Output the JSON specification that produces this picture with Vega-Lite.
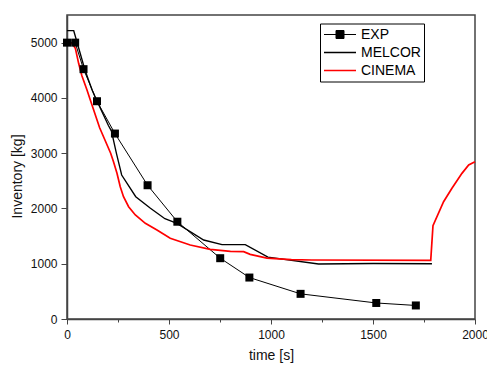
{
  "$schema": "https://vega.github.io/schema/vega-lite/v6.json",
  "autosize": "none",
  "width": 408,
  "height": 304,
  "padding": {"left": 67, "top": 15, "right": 12, "bottom": 46},
  "background": "white",
  "config": {
    "view": {"stroke": "#444444", "strokeWidth": 1.5},
    "font": "Liberation Sans",
    "axis": {
      "grid": false,
      "labelFlush": false,
      "labelOverlap": false,
      "domainColor": "#444444",
      "domainWidth": 1.5,
      "tickColor": "#444444",
      "tickWidth": 1,
      "labelFont": "Liberation Sans",
      "labelFontSize": 12,
      "labelColor": "#111111",
      "titleFont": "Liberation Sans",
      "titleFontSize": 14,
      "titleFontWeight": "normal",
      "titleColor": "#111111"
    }
  },
  "datasets": {
    "curves": [
      {"series": "EXP", "t": 0, "v": 5000},
      {"series": "EXP", "t": 40, "v": 5000},
      {"series": "EXP", "t": 81, "v": 4520},
      {"series": "EXP", "t": 147, "v": 3940},
      {"series": "EXP", "t": 235, "v": 3355},
      {"series": "EXP", "t": 395, "v": 2420},
      {"series": "EXP", "t": 541, "v": 1760},
      {"series": "EXP", "t": 751, "v": 1100},
      {"series": "EXP", "t": 894, "v": 750},
      {"series": "EXP", "t": 1145, "v": 455},
      {"series": "EXP", "t": 1516, "v": 290},
      {"series": "EXP", "t": 1710, "v": 245},
      {"series": "MELCOR", "t": 0, "v": 5216},
      {"series": "MELCOR", "t": 33, "v": 5216},
      {"series": "MELCOR", "t": 88, "v": 4505},
      {"series": "MELCOR", "t": 123, "v": 4143},
      {"series": "MELCOR", "t": 140, "v": 4000},
      {"series": "MELCOR", "t": 203, "v": 3500},
      {"series": "MELCOR", "t": 218, "v": 3400},
      {"series": "MELCOR", "t": 242, "v": 3000},
      {"series": "MELCOR", "t": 268, "v": 2605},
      {"series": "MELCOR", "t": 337, "v": 2213},
      {"series": "MELCOR", "t": 409, "v": 2003},
      {"series": "MELCOR", "t": 480, "v": 1815},
      {"series": "MELCOR", "t": 539, "v": 1731},
      {"series": "MELCOR", "t": 670, "v": 1429},
      {"series": "MELCOR", "t": 760, "v": 1345},
      {"series": "MELCOR", "t": 874, "v": 1345},
      {"series": "MELCOR", "t": 985, "v": 1120},
      {"series": "MELCOR", "t": 1233, "v": 995},
      {"series": "MELCOR", "t": 1500, "v": 1005},
      {"series": "MELCOR", "t": 1789, "v": 1000},
      {"series": "CINEMA", "t": 0, "v": 4975},
      {"series": "CINEMA", "t": 12, "v": 4990},
      {"series": "CINEMA", "t": 25, "v": 4985},
      {"series": "CINEMA", "t": 41, "v": 4898},
      {"series": "CINEMA", "t": 57, "v": 4626},
      {"series": "CINEMA", "t": 73, "v": 4400},
      {"series": "CINEMA", "t": 98, "v": 4143},
      {"series": "CINEMA", "t": 111, "v": 4000},
      {"series": "CINEMA", "t": 160, "v": 3460},
      {"series": "CINEMA", "t": 214, "v": 3000},
      {"series": "CINEMA", "t": 228, "v": 2846},
      {"series": "CINEMA", "t": 245, "v": 2636},
      {"series": "CINEMA", "t": 261, "v": 2394},
      {"series": "CINEMA", "t": 277, "v": 2213},
      {"series": "CINEMA", "t": 302, "v": 2032},
      {"series": "CINEMA", "t": 335, "v": 1882},
      {"series": "CINEMA", "t": 384, "v": 1731},
      {"series": "CINEMA", "t": 441, "v": 1610},
      {"series": "CINEMA", "t": 506, "v": 1460},
      {"series": "CINEMA", "t": 604, "v": 1339},
      {"series": "CINEMA", "t": 702, "v": 1261},
      {"series": "CINEMA", "t": 801, "v": 1222},
      {"series": "CINEMA", "t": 866, "v": 1218},
      {"series": "CINEMA", "t": 898, "v": 1170},
      {"series": "CINEMA", "t": 980, "v": 1100},
      {"series": "CINEMA", "t": 1100, "v": 1075},
      {"series": "CINEMA", "t": 1200, "v": 1067},
      {"series": "CINEMA", "t": 1783, "v": 1060},
      {"series": "CINEMA", "t": 1794, "v": 1688},
      {"series": "CINEMA", "t": 1846, "v": 2122},
      {"series": "CINEMA", "t": 1887, "v": 2364},
      {"series": "CINEMA", "t": 1936, "v": 2635},
      {"series": "CINEMA", "t": 1969, "v": 2786},
      {"series": "CINEMA", "t": 2000, "v": 2846}
    ]
  },
  "data": {"name": "curves"},
  "layer": [
    {
      "mark": {"type": "line", "clip": false},
      "encoding": {
        "x": {
          "field": "t", "type": "quantitative",
          "scale": {"domain": [0, 2000], "nice": false, "zero": false},
          "axis": {
            "orient": "bottom",
            "title": "time [s]",
            "values": [0, 250, 500, 750, 1000, 1250, 1500, 1750, 2000],
            "format": "d",
            "labelExpr": "datum.value % 500 === 0 ? datum.label : ''",
            "tickSize": 5,
            "labelPadding": 5,
            "titlePadding": 8,
            "encoding": {"ticks": {"y2": {"condition": {"test": "datum.value % 500 === 0", "value": 5}, "value": 3}}}
          }
        },
        "y": {
          "field": "v", "type": "quantitative",
          "scale": {"domain": [0, 5500], "nice": false, "zero": false},
          "axis": {
            "orient": "left",
            "title": "Inventory [kg]",
            "values": [0, 250, 500, 750, 1000, 1250, 1500, 1750, 2000, 2250, 2500, 2750, 3000, 3250, 3500, 3750, 4000, 4250, 4500, 4750, 5000, 5250, 5500],
            "labelExpr": "datum.value % 500 === 0 ? datum.label : ''",
            "format": "d",
            "tickSize": 6,
            "labelPadding": 4,
            "titlePadding": 6,
            "titleY": 161,
            "encoding": {"ticks": {"x2": {"condition": {"test": "datum.value % 500 === 0", "value": -6}, "value": -3}}}
          }
        },
        "color": {
          "field": "series", "type": "nominal",
          "scale": {"domain": ["EXP", "MELCOR", "CINEMA"], "range": ["#000000", "#000000", "#ff0000"]},
          "legend": {
            "title": null,
            "orient": "none",
            "legendX": 253,
            "legendY": 8.5,
            "strokeColor": "#000000",
            "fillColor": "#ffffff",
            "padding": 3,
            "symbolType": "stroke",
            "symbolSize": 1024,
            "symbolStrokeWidth": 1.5,
            "clipHeight": 16,
            "labelFont": "Liberation Sans",
            "labelFontSize": 14,
            "labelColor": "#000000",
            "labelOffset": 4,
            "rowPadding": 2,
            "encoding": {
              "symbols": {
                "shape": {"condition": {"test": "datum.value === 'EXP'", "value": "M-1,0H1M-0.25,-0.25H0.25V0.25H-0.25Z"}, "value": "stroke"},
                "fill": {"condition": {"test": "datum.value === 'EXP'", "value": "#000000"}, "value": "transparent"},
                "strokeWidth": {"condition": {"test": "datum.value === 'EXP'", "value": 1}, "value": 1.5}
              }
            }
          }
        },
        "strokeWidth": {
          "field": "series", "type": "nominal",
          "scale": {"domain": ["EXP", "MELCOR", "CINEMA"], "range": [1, 1.7, 1.5]},
          "legend": null
        }
      }
    },
    {
      "transform": [{"filter": "datum.series === 'EXP'"}],
      "mark": {"type": "point", "shape": "square", "filled": true, "size": 64, "color": "#000000", "opacity": 1, "clip": false},
      "encoding": {
        "x": {"field": "t", "type": "quantitative"},
        "y": {"field": "v", "type": "quantitative"}
      }
    }
  ]
}
